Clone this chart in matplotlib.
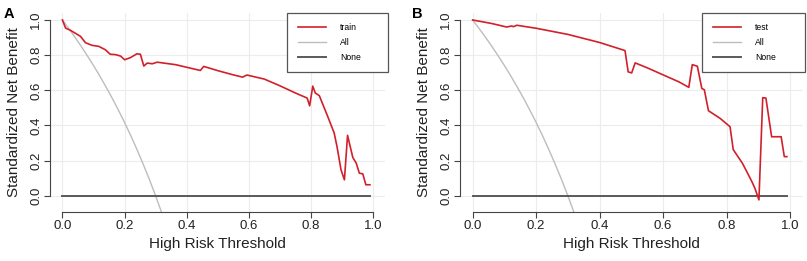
import matplotlib
matplotlib.use("Agg")
import matplotlib.pyplot as plt

plt.rcParams['font.family'] = ['Liberation Sans', 'DejaVu Sans']

# thresholds / net benefit
train_x = [0.0, 0.01, 0.026, 0.058, 0.074, 0.095, 0.117, 0.138, 0.154, 0.171, 0.187,
           0.20, 0.219, 0.24, 0.251, 0.262, 0.273, 0.289, 0.305, 0.364, 0.444, 0.455,
           0.50, 0.55, 0.58, 0.594, 0.65, 0.70, 0.75, 0.788, 0.796, 0.806, 0.814,
           0.827, 0.852, 0.875, 0.884, 0.897, 0.908, 0.918, 0.935, 0.946, 0.956,
           0.967, 0.977, 0.99]
train_y = [1.0, 0.954, 0.941, 0.907, 0.871, 0.856, 0.850, 0.831, 0.805, 0.803, 0.795,
           0.774, 0.786, 0.808, 0.805, 0.738, 0.755, 0.751, 0.760, 0.746, 0.713, 0.736,
           0.712, 0.688, 0.675, 0.687, 0.664, 0.626, 0.585, 0.556, 0.512, 0.624, 0.585,
           0.570, 0.461, 0.357, 0.281, 0.148, 0.091, 0.344, 0.218, 0.186, 0.129,
           0.125, 0.063, 0.063]

test_x = [0.0, 0.06, 0.107, 0.123, 0.128, 0.139, 0.20, 0.30, 0.40, 0.48, 0.49, 0.501,
          0.512, 0.55, 0.60, 0.65, 0.681, 0.692, 0.708, 0.722, 0.730, 0.743, 0.78,
          0.811, 0.821, 0.85, 0.863, 0.88, 0.89, 0.902, 0.914, 0.924, 0.942, 0.972,
          0.982, 0.99]
test_y = [1.0, 0.980, 0.960, 0.966, 0.962, 0.970, 0.953, 0.918, 0.872, 0.826, 0.705,
          0.699, 0.756, 0.728, 0.688, 0.648, 0.617, 0.746, 0.737, 0.611, 0.603, 0.484,
          0.440, 0.393, 0.263, 0.185, 0.140, 0.080, 0.040, -0.023, 0.558, 0.556, 0.336,
          0.336, 0.223, 0.223]

all_x = [0.0, 0.02, 0.04, 0.06, 0.08, 0.10, 0.12, 0.14, 0.16, 0.18, 0.20, 0.22,
         0.24, 0.26, 0.28, 0.30, 0.32]
all_y = [1.0, 0.952, 0.903, 0.851, 0.797, 0.741, 0.682, 0.620, 0.556, 0.488, 0.417,
         0.342, 0.263, 0.180, 0.093, 0.0, -0.098]

none_x = [0.0, 0.99]
none_y = [0.0, 0.0]

ticks = [0.0, 0.2, 0.4, 0.6, 0.8, 1.0]
tick_labels = ["0.0", "0.2", "0.4", "0.6", "0.8", "1.0"]

fig = plt.figure(figsize=(8.07, 2.61), dpi=100)
ax_a = fig.add_axes([0.062, 0.1877, 0.4156, 0.764])
ax_b = fig.add_axes([0.570, 0.1877, 0.4247, 0.764])

panels = [(ax_a, "A", train_x, train_y, "train"), (ax_b, "B", test_x, test_y, "test")]
for ax, tag, xs, ys, name in panels:
    ax.set_xlim(-0.04, 1.04)
    ax.set_ylim(-0.092, 1.042)
    for t in ticks:
        ax.axvline(t, color="#ececec", lw=0.8, zorder=0)
        ax.axhline(t, color="#ececec", lw=0.8, zorder=0)
    ax.plot(xs, ys, color="#d2202b", lw=1.2, label=name, zorder=3)
    ax.plot(all_x, all_y, color="#bdbdbd", lw=1.0, label="All", zorder=2)
    ax.plot(none_x, none_y, color="#5a5a5a", lw=1.4, label="None", zorder=2)

    for s in ["top", "right"]:
        ax.spines[s].set_visible(False)
    ax.spines["left"].set_bounds(0, 1)
    ax.spines["bottom"].set_bounds(0, 1)
    ax.spines["left"].set_color("#444444")
    ax.spines["bottom"].set_color("#444444")
    ax.set_xticks(ticks)
    ax.set_xticklabels(tick_labels)
    ax.set_yticks(ticks)
    ax.set_yticklabels(tick_labels, rotation=90, va="center")
    ax.tick_params(length=4.5, pad=1, labelsize=9.5, color="#444444", labelcolor="#222222")
    ax.set_xlabel("High Risk Threshold", fontsize=11, labelpad=4, color="#222222")
    ax.set_ylabel("Standardized Net Benefit", fontsize=11, labelpad=7, color="#222222")

    leg = ax.legend(loc="upper right", bbox_to_anchor=(0.707, 0.70, 0.30, 0.30),
                    mode="expand", fontsize=6.2, handlelength=3.3, handletextpad=1.6,
                    borderpad=1.25, labelspacing=0.65, frameon=True, fancybox=False,
                    borderaxespad=0)
    leg.get_frame().set_edgecolor("#555555")
    leg.get_frame().set_linewidth(0.9)
    leg.get_frame().set_alpha(1)
    leg.set_zorder(5)

fig.text(0.004, 0.975, "A", fontsize=10.5, fontweight="bold", va="top")
fig.text(0.511, 0.975, "B", fontsize=10.5, fontweight="bold", va="top")

fig.savefig("out.png", dpi=100)
